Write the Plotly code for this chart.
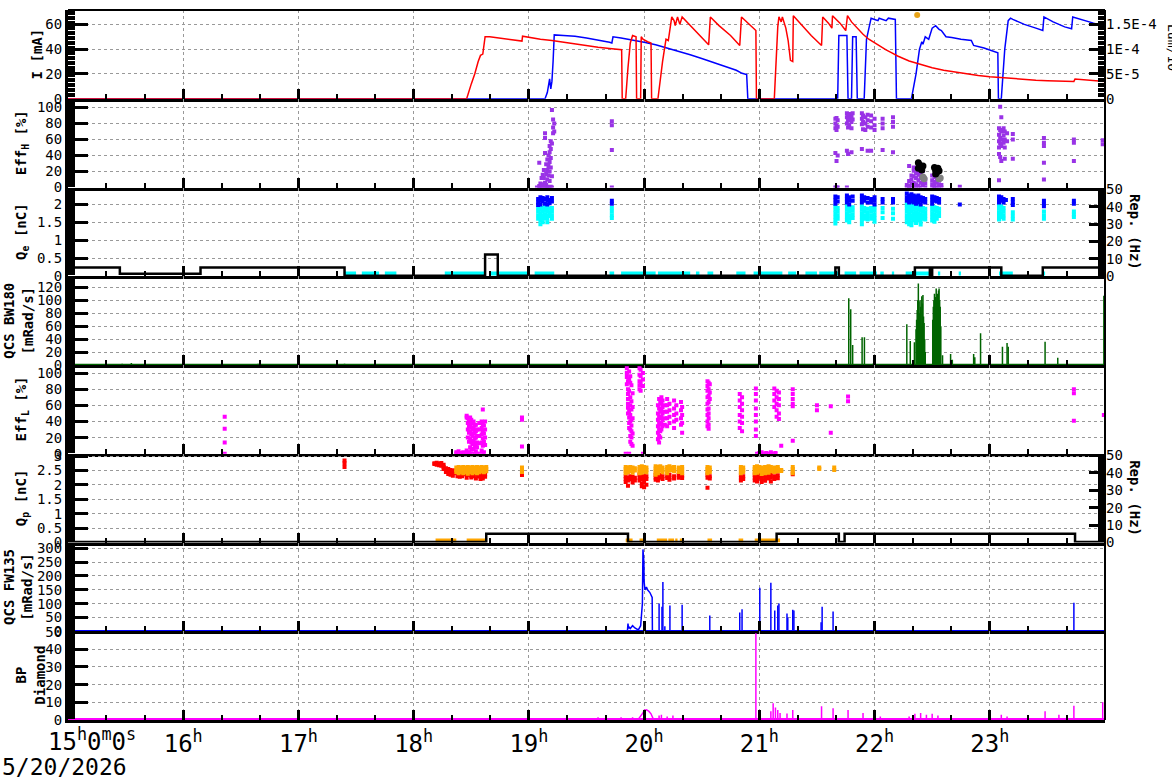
import plotly.graph_objects as go
from plotly.subplots import make_subplots

# ---------------- DATA (time in hours of 5/20/2026) ----------------
HOUR_TICKS = [15, 16, 17, 18, 19, 20, 21, 22, 23]
HOUR_LABELS = ["", "16<sup>h</sup>", "17<sup>h</sup>", "18<sup>h</sup>", "19<sup>h</sup>",
               "20<sup>h</sup>", "21<sup>h</sup>", "22<sup>h</sup>", "23<sup>h</sup>"]

# Panel 1: beam current I [mA]
RED_I = [(15.0,0),(18.46,0),(18.50,12),(18.53,20),(18.56,30),(18.58,35),(18.60,36),(18.62,50),(18.66,50),
 (18.75,49),(18.85,47.5),(18.94,46.5),(18.945,50.5),(19.0,49.5),(19.1,48),(19.2,47),(19.3,45.5),(19.4,44.5),
 (19.5,43),(19.6,41.5),(19.7,40.5),(19.805,39.5),(19.81,0),(19.84,0),(19.86,25),(19.88,45),(19.9,51),(19.93,50),
 (19.935,0),(19.97,0),(19.975,50),(19.99,48),(20.03,46),(20.06,45),(20.065,0),(20.12,0),(20.16,30),(20.19,48),
 (20.21,47),(20.24,66),(20.26,63),(20.27,59),(20.29,66),(20.31,60),(20.33,66),(20.40,59),(20.48,51),(20.56,43.5),
 (20.575,66),(20.65,59),(20.75,51),(20.83,43),(20.845,66),(20.9,61),(20.97,55),(20.975,0),(21.13,0),(21.16,58),
 (21.17,66),(21.19,62),(21.2,66),(21.23,57),(21.25,47),(21.27,31),(21.29,30),(21.295,67),(21.35,61),(21.45,51),
 (21.54,43),(21.55,66),(21.6,61),(21.63,57),(21.635,67),(21.7,61),(21.75,55),(21.765,67),(21.8,62),(21.85,57),
 (21.9,52),(21.95,48),(22.0,45),(22.05,42.5),(22.1,39.5),(22.15,37),(22.2,34.5),(22.3,30.5),(22.4,27.5),
 (22.5,25),(22.6,23),(22.7,21.5),(22.8,20),(22.9,18.8),(23.0,17.8),(23.1,17),(23.2,16.2),(23.3,15.5),(23.4,15),
 (23.5,14.6),(23.6,14.3),(23.73,14),(23.74,16),(23.85,15),(23.98,14),(24.0,14)]
BLUE_I = [(15.0,0),(19.14,0),(19.16,5),(19.17,10),(19.18,16),(19.19,8),(19.2,14),(19.21,30),(19.22,51.5),
 (19.3,51),(19.4,50.5),(19.5,49),(19.6,47.5),(19.7,45.5),(19.72,45),(19.73,50),(19.8,49),(19.9,47.5),(20.0,45.5),
 (20.1,43.5),(20.2,41),(20.3,38),(20.4,35.5),(20.5,32.5),(20.6,29.5),(20.7,26.5),(20.8,23),(20.85,20.5),
 (20.89,19.5),(20.9,0),(21.68,0),(21.69,51),(21.76,51),(21.77,0),(21.8,0),(21.81,50),(21.84,50),(21.85,0),
 (21.91,0),(21.93,48),(21.97,65),(22.0,64),(22.03,63),(22.04,65),(22.07,64),(22.1,63),(22.12,65),(22.18,64),
 (22.19,0),(22.32,0),(22.36,20),(22.39,40),(22.41,46),(22.42,44),(22.44,50),(22.47,48),(22.5,57),(22.53,59),
 (22.56,56),(22.58,55),(22.62,50),(22.67,49.5),(22.75,48),(22.84,47),(22.86,43),(22.9,42),(22.95,41),(23.07,37),
 (23.075,0),(23.1,0),(23.13,40),(23.16,63),(23.18,65),(23.2,64),(23.3,60),(23.4,57),(23.46,55),(23.47,66),
 (23.55,62),(23.65,58),(23.71,56.5),(23.72,66),(23.8,63.5),(23.9,61),(23.99,59)]
LUMI_DOT = [(22.37, 1.69e-4)]
LUMI_TICKS = [0, 5e-5, 1e-4, 1.5e-4]
LUMI_LABELS = ["0", "5E-5", "1E-4", "1.5E-4"]

# Panel 2: EffH [%]  (time, [values])
EFFH_COLS = [
 (19.07,[0]),(19.09,[31,2,0]),(19.10,[0,5]),(19.11,[0,12]),(19.12,[4,0,16]),(19.13,[12,0,22]),
 (19.14,[68,62,43,6,0]),(19.15,[29,17,3,0]),(19.16,[35,22,10,1,0]),(19.17,[40,27,15,0]),
 (19.18,[52,44,32,20,8,0]),(19.19,[58,48,37,25,1]),(19.20,[97,55,14,0]),(19.21,[85,75,68]),(19.22,[80,70]),
 (19.72,[83,78,47,0]),
 (21.66,[86,80,74,43,0]),(21.67,[87,77,72,33,0]),(21.68,[84,76,40,0]),
 (21.76,[93,88,80,46,0]),(21.77,[90,84,75,42]),(21.78,[92,86,78]),(21.80,[89,82,74,44]),(21.81,[93,85]),
 (21.89,[93,86,79,48]),(21.90,[90,82,73]),(21.92,[88,80,72]),(21.94,[91,84,76,46]),
 (21.97,[90,83,75,46]),(22.0,[86,78,72]),(22.07,[86,80,74,47]),(22.16,[88,82,76,44]),
 (22.28,[0,3]),(22.30,[8,2,0,27]),(22.32,[15,10,5,0]),(22.34,[21,14,6,0,25]),(22.36,[18,12,4,0]),
 (22.38,[20,16,9,2]),(22.40,[17,12,6,0]),(22.42,[21,14,8,3]),(22.44,[10,5,0]),
 (22.50,[15,9,4,0]),(22.52,[13,7,2,0]),(22.54,[12,6,0]),(22.56,[10,4,0]),(22.58,[3,0]),(22.74,[1]),
 (23.08,[74,66,58,50,42,9]),(23.09,[101,72,62,55,38]),(23.10,[88,70,60,52,33]),(23.12,[74,65,56]),
 (23.13,[70,60,50,36]),(23.15,[68,58]),(23.20,[67,60,36]),(23.47,[62,56,52,31,10]),(23.73,[60,56,33]),
 (23.98,[59,54])]
EFFH_BLACK = [(22.38,31),(22.39,28),(22.40,25),(22.41,22),(22.38,24),(22.42,27),
              (22.52,25),(22.53,22),(22.54,19),(22.55,24),(22.56,21),(22.53,17)]
EFFH_GRAY = [(22.42,13),(22.43,11),(22.56,11),(22.57,12)]

# Panel 3: Qe [nC] and e- rep rate [Hz]
QE_BLUE_COLS = [
 (19.08,[2.15,2.05,1.98]),(19.10,[2.2,2.1,2.0]),(19.12,[2.18,2.08]),(19.14,[2.15,2.02]),(19.16,[2.2,2.1,2.0]),
 (19.18,[2.12,2.03]),(19.20,[2.18,2.08]),(19.72,[2.1,2.02]),
 (21.66,[2.22,2.12,2.02]),(21.68,[2.2,2.08]),(21.76,[2.25,2.15,2.05]),(21.78,[2.2,2.1,2.0]),(21.81,[2.22,2.1]),
 (21.89,[2.25,2.15,2.05]),(21.91,[2.2,2.1]),(21.94,[2.18,2.05]),(21.97,[2.15,2.05]),(22.0,[2.2,2.1,2.0]),
 (22.07,[2.15,2.05]),(22.16,[2.15,2.05]),
 (22.28,[2.3,2.2,2.1]),(22.30,[2.25,2.15,2.05]),(22.32,[2.28,2.18,2.08]),(22.34,[2.25,2.15,2.05]),
 (22.36,[2.22,2.12,2.02]),(22.38,[2.25,2.15,2.05]),(22.40,[2.2,2.1,2.0]),(22.42,[2.18,2.08]),(22.44,[2.15,2.05]),
 (22.50,[2.22,2.12,2.02]),(22.52,[2.2,2.1]),(22.54,[2.18,2.08]),(22.56,[2.15,2.05]),(22.74,[2.0]),
 (23.08,[2.22,2.12,2.05]),(23.10,[2.2,2.1]),(23.12,[2.15,2.05]),(23.14,[2.12]),(23.20,[2.15,2.05,1.98]),
 (23.47,[2.1,2.02,1.95]),(23.73,[2.1,2.02]),(23.98,[2.15,2.05])]
QE_CYAN_COLS = [
 (19.08,[1.9,1.8,1.7,1.6]),(19.10,[1.95,1.85,1.75,1.65,1.55,1.45]),(19.12,[1.9,1.8,1.7,1.6,1.5]),
 (19.14,[1.92,1.82,1.72,1.62]),(19.16,[1.9,1.8,1.7,1.6,1.5]),(19.18,[1.88,1.78,1.68]),(19.20,[1.9,1.8,1.7,1.6]),
 (19.72,[1.9,1.8,1.7,1.62]),
 (21.66,[1.95,1.85,1.75,1.65,1.55,1.47]),(21.68,[1.9,1.8,1.7,1.6]),(21.76,[1.95,1.85,1.75,1.65,1.55]),
 (21.78,[1.9,1.8,1.7,1.6,1.5]),(21.81,[1.92,1.82,1.72,1.62]),(21.89,[1.95,1.85,1.75,1.65,1.55,1.45]),
 (21.91,[1.9,1.8,1.7,1.6]),(21.94,[1.88,1.78,1.68,1.58]),(21.97,[1.9,1.8,1.7,1.6]),
 (22.0,[1.92,1.82,1.72,1.62,1.52]),(22.07,[1.9,1.78,1.62]),(22.16,[1.88,1.75,1.6]),
 (22.28,[2.0,1.9,1.8,1.7,1.6,1.5]),(22.30,[1.95,1.85,1.75,1.65,1.55,1.45]),(22.32,[2.0,1.9,1.8,1.7,1.6,1.5,1.42]),
 (22.34,[1.95,1.85,1.75,1.65,1.55]),(22.36,[1.98,1.88,1.78,1.68,1.58,1.48]),(22.38,[1.95,1.85,1.75,1.65,1.55]),
 (22.40,[1.92,1.82,1.72,1.62,1.52,1.44]),(22.42,[1.9,1.8,1.7,1.6]),(22.44,[1.88,1.78,1.68,1.58]),
 (22.50,[1.95,1.85,1.75,1.65,1.55]),(22.52,[1.92,1.82,1.72,1.62,1.52]),(22.54,[1.9,1.8,1.7,1.6]),
 (22.56,[1.88,1.78,1.68]),(23.08,[1.98,1.88,1.78,1.68,1.58]),(23.10,[1.95,1.85,1.75,1.65]),
 (23.12,[1.9,1.8,1.7,1.6]),(23.20,[1.78,1.68,1.58]),(23.47,[1.8,1.7,1.6]),(23.73,[1.8,1.72,1.65]),
 (23.98,[1.9,1.82])]
QE_ZERO_LEVEL = 0.08
QE_ZERO_RUNS = [(17.40,17.50),(17.55,17.70),(17.75,17.85),(18.27,18.62),(18.66,19.0),(19.05,19.22),(19.70,19.74),
 (19.80,20.10),(20.12,20.40),(20.45,20.48),(20.55,20.60),(20.80,20.88),(20.95,21.20),(21.25,21.32),(21.40,21.50),
 (21.52,21.70),(21.74,21.84),(21.87,22.02),(22.05,22.08),(22.15,22.17),(22.27,22.48),(22.55,22.57),(22.73,22.75),
 (23.08,23.20),(23.46,23.48)]
REP_E = [(15.0,5),(15.45,5),(15.45,1.5),(16.15,1.5),(16.15,5),(17.4,5),(17.4,0.3),(18.62,0.3),(18.62,12.5),
 (18.73,12.5),(18.73,0.3),(21.66,0.3),(21.66,5),(21.69,5),(21.69,0.3),(22.35,0.3),(22.35,5),(22.48,5),(22.48,0.3),
 (22.5,0.3),(22.5,5),(23.1,5),(23.1,0.3),(23.46,0.3),(23.46,5),(24.0,5)]

# Panel 4: QCS BW180 [mRad/s]
BW_SPIKES = [(15.47,2),(15.55,3),(16.65,2),(17.4,2),(21.776,103),(21.793,86),(21.81,31),(21.892,43),(21.912,43),
 (21.985,2),(22.28,63),(22.31,37),(22.346,35),(22.36,55),(22.365,70),(22.37,85),(22.375,100),(22.38,126),
 (22.385,98),(22.39,80),(22.395,100),(22.40,90),(22.405,60),(22.41,106),(22.415,95),(22.42,108),(22.425,75),
 (22.43,65),(22.435,40),(22.44,20),(22.505,70),(22.51,90),(22.515,100),(22.52,110),(22.525,96),(22.53,105),
 (22.535,118),(22.54,100),(22.545,110),(22.55,95),(22.555,115),(22.56,118),(22.565,100),(22.57,90),(22.575,60),
 (22.59,15),(22.66,17),(22.675,8),(22.86,17),(22.87,12),(22.92,49),(23.11,28),(23.15,34),(23.16,28),(23.48,36),
 (23.59,11),(23.99,107)]

# Panel 5: EffL [%]
EFFL_COLS = [
 (16.36,[46,31,14,0]),
 (18.37,[2,0]),(18.39,[3,0]),(18.41,[1,0]),(18.43,[2,0]),(18.45,[0]),
 (18.46,[47,45,4,0]),(18.47,[44,38,30,20,0]),(18.48,[40,34,26,15,2]),(18.49,[45,36,28,18,8,0]),
 (18.50,[42,33,24,14,5]),(18.51,[38,30,22,12,0]),(18.52,[40,32,25,16,6]),(18.53,[35,27,19,10,0]),
 (18.54,[36,28,20,12,3]),(18.55,[30,22,14,8,0]),(18.57,[38,30,22,13,0]),(18.59,[40,32,24,14,4]),
 (18.60,[55,37,28,19,10,0]),(18.61,[35,25,15,2]),(18.62,[40,30,20,11]),
 (18.94,[45,42,9]),(19.84,[0]),
 (19.85,[106,100,95,86]),(19.86,[90,80,74,68,62,57,50]),(19.87,[102,92,78,53,45,38,32,0]),
 (19.88,[96,88,70,60,48,40,30,22,15]),(19.89,[85,65,55,42,35,28,20,12]),(19.90,[75,58,44,25,10]),
 (19.96,[106,98,90,85,80]),(19.97,[104,96,88,78]),(19.99,[100,92,84,0]),
 (20.12,[60,50,42,34,26,18]),(20.13,[68,56,46,38,30,22,14]),(20.14,[64,52,44,36,28,20]),
 (20.15,[70,62,54,46,38,30]),(20.16,[66,58,50,42,34]),(20.18,[60,52,44,36]),(20.20,[68,60,52,44,34]),
 (20.22,[62,54,46,38]),(20.26,[66,56,48,40,32]),(20.28,[60,50,42]),(20.32,[64,54,44,36]),(20.33,[58,48,38,26]),
 (20.55,[90,84,78,70,62,55,48,40,34]),(20.56,[88,80,72,64,56,50,44,36,31]),(20.57,[86,76,68]),
 (20.83,[74,66,58,48,40,32]),(20.85,[70,62,54,46,38,28]),(20.97,[81,74,66,56,48,40,30,22]),
 (20.98,[0]),(21.00,[1,0]),(21.02,[2,0]),(21.04,[0]),(21.06,[1,0]),(21.08,[0]),(21.10,[2,0]),(21.12,[0]),
 (21.14,[1,0]),(21.13,[81,74,66,58]),(21.15,[78,70,62,54,46]),(21.17,[76,68,60,50,43]),(21.19,[10]),
 (21.29,[80,74,68,62,59,16]),(21.50,[60,54]),(21.62,[59,26]),(21.77,[71,65]),(23.73,[80,75,41]),(23.99,[48])]

# Panel 6: Qp [nC] and e+ rep rate [Hz]
QP_RED_COLS = [
 (17.40,[2.85,2.75,2.62]),
 (18.18,[2.75,2.72]),(18.20,[2.77,2.7]),(18.22,[2.74,2.68]),(18.24,[2.76,2.66]),(18.26,[2.7,2.62,2.55]),
 (18.28,[2.58,2.5,2.45]),(18.30,[2.55,2.45,2.38]),(18.32,[2.52,2.42,2.35]),(18.34,[2.5,2.4,2.32]),
 (18.36,[2.5,2.42]),(18.38,[2.48,2.4,2.3]),(18.40,[2.45,2.38,2.28]),(18.42,[2.46,2.36,2.3]),(18.44,[2.45,2.38]),
 (18.46,[2.42,2.34,2.25]),(18.48,[2.44,2.36]),(18.50,[2.42,2.32,2.26]),(18.52,[2.4,2.3]),(18.54,[2.42,2.35,2.22]),
 (18.56,[2.4,2.3]),(18.58,[2.38,2.28,2.2]),(18.60,[2.4,2.3,2.22]),(18.62,[2.36,2.28]),(18.94,[2.42,2.34]),
 (19.84,[2.3,2.2,2.1]),(19.86,[2.25,2.15,1.97]),(19.88,[2.3,2.2]),(19.90,[2.28,2.18,2.08]),(19.92,[2.25,2.15]),
 (19.96,[2.35,2.25,2.15]),(19.98,[2.3,2.2,2.05,1.95]),(20.0,[2.32,2.22,2.1,1.92]),(20.02,[2.3,2.2,2.0]),
 (20.10,[2.35,2.25,2.18]),(20.12,[2.32,2.22,2.15]),(20.14,[2.35,2.25]),(20.16,[2.3,2.2]),(20.20,[2.32,2.24]),
 (20.22,[2.35,2.25,2.18]),(20.26,[2.3,2.22]),(20.30,[2.35,2.25]),(20.33,[2.32,2.24]),
 (20.55,[2.35,2.25,1.9]),(20.57,[2.3,2.22]),(20.84,[2.35,2.25,2.15]),(20.86,[2.3,2.2]),
 (20.96,[2.35,2.25,2.15]),(20.98,[2.32,2.22,2.12]),(21.00,[2.35,2.25]),(21.02,[2.3,2.2,2.1]),
 (21.05,[2.34,2.24,2.14]),(21.08,[2.32,2.22]),(21.10,[2.35,2.25,2.12]),(21.13,[2.3,2.2]),(21.16,[2.33,2.23]),
 (21.29,[2.37])]
QP_ORANGE_COLS = [
 (18.37,[2.6,2.52,2.45]),(18.39,[2.62,2.55,2.47,2.4]),(18.41,[2.6,2.52,2.45]),(18.43,[2.62,2.55,2.48,2.4]),
 (18.45,[2.6,2.52,2.44]),(18.47,[2.62,2.55,2.47,2.39]),(18.49,[2.6,2.52,2.45]),(18.51,[2.62,2.55,2.47,2.4]),
 (18.53,[2.6,2.52,2.45]),(18.55,[2.62,2.55,2.47,2.4]),(18.57,[2.6,2.52,2.44]),(18.59,[2.62,2.55,2.47]),
 (18.61,[2.6,2.52,2.44]),(18.63,[2.62,2.55,2.47]),(18.94,[2.6,2.52,2.45]),
 (19.84,[2.62,2.55,2.47,2.4]),(19.86,[2.6,2.52,2.44]),(19.88,[2.62,2.55,2.48]),(19.90,[2.6,2.5,2.42]),
 (19.92,[2.58,2.5]),(19.96,[2.62,2.55,2.47,2.4]),(19.98,[2.65,2.57,2.5,2.42]),(20.0,[2.62,2.55,2.47]),
 (20.02,[2.6,2.52,2.44]),(20.10,[2.65,2.57,2.5,2.42,2.35]),(20.12,[2.62,2.55,2.47,2.4]),(20.14,[2.65,2.57,2.5]),
 (20.16,[2.6,2.52,2.44]),(20.20,[2.62,2.55,2.47,2.4]),(20.22,[2.65,2.57,2.5]),(20.24,[2.6,2.52]),
 (20.26,[2.62,2.55,2.47]),(20.30,[2.6,2.52,2.45]),(20.33,[2.62,2.55,2.47,2.4]),
 (20.55,[2.62,2.55,2.47,2.4]),(20.57,[2.6,2.52,2.45]),(20.84,[2.62,2.55,2.47,2.4]),(20.86,[2.6,2.52,2.45]),
 (20.96,[2.62,2.55,2.47,2.4]),(20.98,[2.65,2.57,2.5,2.42]),(21.00,[2.62,2.55,2.47]),(21.02,[2.6,2.52,2.45,2.38]),
 (21.05,[2.62,2.55,2.47,2.4]),(21.08,[2.65,2.57,2.5,2.42]),(21.10,[2.62,2.55,2.47]),(21.13,[2.6,2.52,2.45]),
 (21.16,[2.62,2.55,2.47]),(21.19,[2.52,2.48]),(21.29,[2.62,2.55,2.47,2.4]),(21.52,[2.6,2.55]),
 (21.65,[2.6,2.52]),(23.98,[2.55,2.48])]
QP_ZERO_LEVEL = 0.07
QP_ZERO_RUNS = [(18.19,18.37),(18.46,18.63),(19.84,19.90),(19.96,20.01),(20.11,20.20),(20.21,20.26),(20.27,20.29),
 (20.31,20.34),(20.55,20.59),(20.82,20.86),(20.96,21.18)]
REP_P = [(15.0,0.3),(18.63,0.3),(18.63,5),(19.86,5),(19.86,0.3),(21.15,0.3),(21.15,5),(21.69,5),(21.69,0.3),
 (21.74,0.3),(21.74,5),(23.74,5),(23.74,0.3),(24.0,0.3)]

# Panel 7: QCS FW135 [mRad/s]
FW_CONN = [(19.855,0),(19.86,28),(19.865,10),(19.87,15),(19.88,10),(19.9,20),(19.92,12),(19.95,5),(19.97,20),
 (19.976,60),(19.985,100),(19.99,296),(19.998,250),(20.0,180),(20.007,150),(20.02,160),(20.03,150),(20.05,140),
 (20.06,130),(20.07,122),(20.072,0)]
FW_SPIKES = [(20.13,100),(20.155,89),(20.163,178),(20.18,18),(20.224,93),(20.33,96),(20.57,57),(20.83,68),
 (20.85,80),(21.004,157),(21.1,175),(21.134,75),(21.16,93),(21.17,100),(21.24,64),(21.247,50),(21.29,78),
 (21.30,75),(21.536,33),(21.545,89),(21.64,71),(23.73,103)]

# Panel 8: BP Diamond
BP_HUMP = [(19.95,0.5),(19.97,2),(19.99,4),(20.0,5.5),(20.02,5.8),(20.04,5),(20.06,3.5),(20.08,0.5)]
BP_SPIKES = [(19.6,1.5),(19.7,1.2),(19.8,1.5),(19.9,1.5),(20.13,2.5),(20.15,3),(20.2,2),(20.25,2.5),(20.97,49),
 (21.1,5),(21.12,9.5),(21.14,7),(21.16,5.6),(21.18,4),(21.24,3.7),(21.29,5.6),(21.54,7.8),(21.64,6.7),(21.77,5.6),
 (21.9,4),(22.05,2),(22.3,2),(22.35,3.5),(22.4,4),(22.45,3),(22.5,3.5),(22.55,2.5),(23.1,3),(23.15,2),(23.48,5),
 (23.6,3),(23.73,8),(23.98,10)]

# ---------------- helpers ----------------
def pts(p):
    return [a for a, _ in p], [b for _, b in p]

def cols(c):
    xs, ys = [], []
    for t, vals in c:
        for v in vals:
            xs.append(t); ys.append(v)
    return xs, ys

def spikes(sp, base=0):
    xs, ys = [], []
    for t, v in sp:
        xs += [t, t, None]; ys += [base, v, None]
    return xs, ys

def runs(r, level):
    xs, ys = [], []
    for a, b in r:
        xs += [a, b, None]; ys += [level, level, None]
    return xs, ys

MONO = "DejaVu Sans Mono"
PURPLE = "#9933E6"

fig = make_subplots(rows=8, cols=1, shared_xaxes=True, vertical_spacing=0,
                    specs=[[{"secondary_y": True}], [{}], [{"secondary_y": True}], [{}], [{}],
                           [{"secondary_y": True}], [{}], [{}]])

def line(p, color, row, width=1.5, sec=False, shape=None):
    x, y = p
    fig.add_trace(go.Scatter(x=x, y=y, mode="lines", line=dict(color=color, width=width, shape=shape),
                             hoverinfo="skip"), row=row, col=1, secondary_y=sec)

def mark(p, color, row, size=4, symbol="square", sec=False):
    x, y = p
    fig.add_trace(go.Scatter(x=x, y=y, mode="markers", marker=dict(color=color, size=size, symbol=symbol,
                             line=dict(width=0)), hoverinfo="skip"), row=row, col=1, secondary_y=sec)

# Panel 1
line(pts(BLUE_I), "#0000FF", 1)
line(pts(RED_I), "#FF0000", 1)
mark(pts(LUMI_DOT), "#E8A317", 1, size=6, symbol="circle", sec=True)
# Panel 2
mark(cols(EFFH_COLS), PURPLE, 2)
mark(pts(EFFH_GRAY), "#808080", 2, size=7, symbol="circle")
mark(pts(EFFH_BLACK), "#000000", 2, size=7, symbol="circle")
# Panel 3
line(pts(REP_E), "#000000", 3, width=2.5, sec=True)
line(runs(QE_ZERO_RUNS, QE_ZERO_LEVEL), "#00FFFF", 3, width=4)
mark(cols(QE_CYAN_COLS), "#00FFFF", 3)
mark(cols(QE_BLUE_COLS), "#0000FF", 3)
# Panel 4
line(([15, 24], [0.5, 0.5]), "#006400", 4, width=2)
line(spikes(BW_SPIKES), "#006400", 4, width=1.5)
# Panel 5
mark(cols(EFFL_COLS), "#FF00FF", 5)
# Panel 6
line(pts(REP_P), "#000000", 6, width=2.5, sec=True)
line(runs(QP_ZERO_RUNS, QP_ZERO_LEVEL), "#FFA500", 6, width=4)
mark(cols(QP_RED_COLS), "#FF0000", 6)
mark(cols(QP_ORANGE_COLS), "#FFA500", 6)
# Panel 7
line(([15, 24], [1, 1]), "#0000FF", 7, width=2)
line(pts(FW_CONN), "#0000FF", 7, width=1.5)
line(spikes(FW_SPIKES), "#0000FF", 7, width=1.5)
# Panel 8
line(([15, 24], [0.4, 0.4]), "#FF00FF", 8, width=2.5)
line(pts(BP_HUMP), "#FF00FF", 8, width=1.5)
line(spikes(BP_SPIKES), "#FF00FF", 8, width=1.5)

# Draw the rep-rate (secondary) subplots below their primary data so the zero-level markers stay visible
fig.update_layout(**{"yaxis": dict(layer="above traces")})

# ---------------- axes ----------------
TICKFONT = dict(family=MONO, size=14, color="black")

def yax(row, rng, dtick, mdtick, sec=False, tickvals=None, ticktext=None):
    kw = dict(range=rng, tick0=0, dtick=dtick, ticks="inside", ticklen=20 if not sec else 16, tickwidth=3,
              tickcolor="black", showline=not sec, linecolor="black", linewidth=3, zeroline=False,
              showgrid=not sec, gridcolor="#999999", griddash="dot", gridwidth=1, tickfont=TICKFONT,
              automargin=False,
              minor=dict(dtick=mdtick, tick0=0, ticks="inside", ticklen=7, tickwidth=1.5, tickcolor="black",
                         showgrid=False))
    if tickvals is not None:
        kw.update(tickmode="array", tickvals=tickvals, ticktext=ticktext)
    fig.update_yaxes(row=row, col=1, secondary_y=sec, **kw)

yax(1, [0, 71.6], 20, 2)
yax(1, [0, 1.79e-4], None, 5e-6, sec=True, tickvals=LUMI_TICKS, ticktext=LUMI_LABELS)
yax(2, [0, 111], 20, 2)
yax(3, [0, 2.47], 0.5, 0.05)
yax(3, [0, 51.1], 10, 1, sec=True)
yax(4, [0, 137], 20, 2)
yax(5, [0, 110], 20, 2)
yax(6, [0, 3.08], 0.5, 0.05)
yax(6, [0, 51], 10, 1, sec=True)
yax(7, [0, 321], 50, 5)
yax(8, [0, 50.2], 10, 1)

for r in range(1, 9):
    kw = dict(range=[15, 24], domain=[0, 1], ticks="inside", ticklen=10, tickwidth=3, tickcolor="black",
              showline=True, linecolor="black", linewidth=3, zeroline=False, automargin=False,
              showgrid=True, gridcolor="#999999", griddash="dot", gridwidth=1,
              minor=dict(tick0=15, dtick=1/3, ticks="inside", ticklen=5, tickwidth=2, tickcolor="black",
                         showgrid=False))
    if r == 8:
        kw.update(tickmode="array", tickvals=HOUR_TICKS, ticktext=HOUR_LABELS, showticklabels=True,
                  tickfont=dict(family=MONO, size=24, color="black"))
    else:
        kw.update(tick0=15, dtick=1, showticklabels=False)
    fig.update_xaxes(row=r, col=1, **kw)

# ---------------- titles / annotations ----------------
PL, PR = 68, 1105
def px(x):
    return (x - PL) / (PR - PL)

def pcenter(i):
    return 1 - (i + 0.5) / 8

left_titles = [("I [mA]", 37), ("Eff<sub>H</sub> [%]", 22), ("Q<sub>e</sub> [nC]", 22),
               ("QCS BW180<br>[mRad/s]", 18), ("Eff<sub>L</sub> [%]", 22), ("Q<sub>p</sub> [nC]", 22),
               ("QCS FW135<br>[mRad/s]", 18), ("BP<br>Diamond", 30)]
anns = []
for i, (t, x) in enumerate(left_titles):
    anns.append(dict(text="<b>" + t + "</b>", x=px(x), y=pcenter(i), xref="paper", yref="paper",
                     textangle=-90, showarrow=False, xanchor="center", yanchor="middle",
                     font=dict(family=MONO, size=14, color="black")))
for i in (2, 5):
    anns.append(dict(text="<b>Rep. (Hz)</b>", x=px(1135), y=pcenter(i), xref="paper", yref="paper",
                     textangle=90, showarrow=False, xanchor="center", yanchor="middle",
                     font=dict(family=MONO, size=14, color="black")))
anns.append(dict(text="Lum/10<sup>34</sup>", x=px(1163), y=1 - 43 / 710, xref="paper", yref="paper",
                 textangle=90, showarrow=False, xanchor="left", yanchor="middle",
                 font=dict(family=MONO, size=13, color="black")))
anns.append(dict(text="15<sup>h</sup>0<sup>m</sup>0<sup>s</sup>", x=px(46), y=(720 - 722) / 710,
                 xref="paper", yref="paper", showarrow=False, xanchor="left", yanchor="top",
                 font=dict(family=MONO, size=24, color="black")))
anns.append(dict(text="5/20/2026", x=px(0), y=(720 - 767) / 710, xref="paper", yref="paper",
                 showarrow=False, xanchor="left", yanchor="middle",
                 font=dict(family=MONO, size=23, color="black")))

shapes = [dict(type="line", xref="paper", yref="paper", x0=1, x1=1, y0=0, y1=1,
               line=dict(color="black", width=2)),
          dict(type="line", xref="paper", yref="paper", x0=0, x1=1, y0=1, y1=1,
               line=dict(color="black", width=2))]

fig.update_layout(width=1172, height=782, margin=dict(l=PL, r=1172 - PR, t=10, b=62),
                  plot_bgcolor="white", paper_bgcolor="white", showlegend=False,
                  annotations=anns, shapes=shapes, font=dict(family=MONO, color="black"))

fig.write_html("out.html")
